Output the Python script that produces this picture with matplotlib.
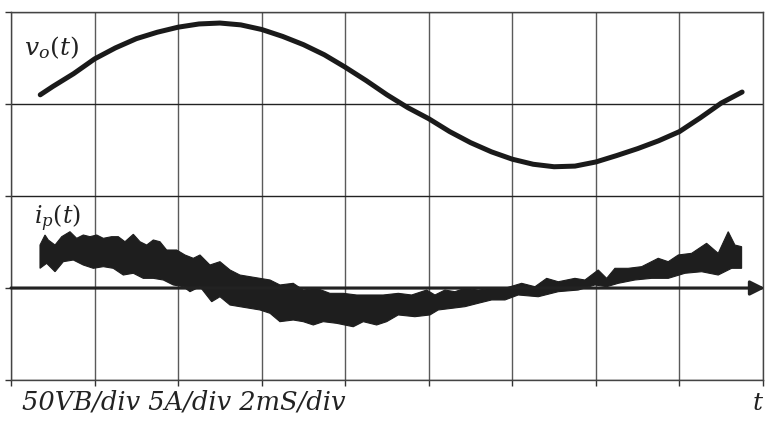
import matplotlib
matplotlib.use('Agg')
import matplotlib.pyplot as plt

plt.rcParams['mathtext.fontset'] = 'dejavuserif'

# ---- data (units: divisions; x = time div, y = vertical div) ----
t_vo = [0.35, 0.50, 0.75, 1.00, 1.25, 1.50, 1.75, 2.00, 2.25, 2.50, 2.75, 3.00,
        3.25, 3.50, 3.75, 4.00, 4.25, 4.50, 4.75, 5.00, 5.25, 5.50, 5.75, 6.00,
        6.25, 6.50, 6.75, 7.00, 7.25, 7.50, 7.75, 8.00, 8.25, 8.50, 8.75]
vo = [3.10, 3.19, 3.33, 3.49, 3.61, 3.71, 3.78, 3.835, 3.87, 3.88, 3.86, 3.81,
      3.735, 3.645, 3.535, 3.40, 3.255, 3.10, 2.96, 2.84, 2.70, 2.58, 2.48, 2.40,
      2.345, 2.318, 2.325, 2.37, 2.44, 2.515, 2.60, 2.70, 2.85, 3.01, 3.13]

# i_p(t) upper edge of the noisy trace (relative to the time axis)
t_ip_up = [0.347, 0.407, 0.446, 0.527, 0.607, 0.706, 0.786, 0.865, 0.945, 1.026,
           1.105, 1.205, 1.284, 1.364, 1.464, 1.544, 1.624, 1.703, 1.783, 1.863,
           1.983, 2.082, 2.182, 2.262, 2.381, 2.501, 2.621, 2.740, 2.860, 2.980,
           3.100, 3.219, 3.378, 3.498, 3.658, 3.817, 3.977, 4.137, 4.296, 4.455,
           4.635, 4.795, 4.975, 5.074, 5.194, 5.313, 5.433, 5.592, 5.752, 5.912,
           6.112, 6.271, 6.411, 6.550, 6.749, 6.869, 7.028, 7.129, 7.228, 7.387,
           7.548, 7.746, 7.866, 7.986, 8.146, 8.325, 8.464, 8.584, 8.664, 8.744]
ip_up = [0.467, 0.576, 0.522, 0.467, 0.558, 0.612, 0.540, 0.576, 0.558, 0.576,
         0.540, 0.558, 0.558, 0.503, 0.584, 0.503, 0.467, 0.522, 0.503, 0.413,
         0.413, 0.359, 0.323, 0.359, 0.250, 0.286, 0.196, 0.141, 0.123, 0.105,
         0.087, 0.033, 0.051, -0.022, -0.003, -0.058, -0.058, -0.076, -0.076, -0.076,
         -0.058, -0.076, -0.022, -0.076, -0.022, -0.040, -0.003, -0.022, -0.003, -0.003,
         0.051, 0.014, 0.105, 0.068, 0.105, 0.087, 0.196, 0.105, 0.214, 0.214,
         0.232, 0.323, 0.286, 0.359, 0.377, 0.486, 0.377, 0.612, 0.467, 0.449]

# i_p(t) lower edge of the noisy trace
t_ip_lo = [0.347, 0.427, 0.527, 0.626, 0.746, 0.865, 0.985, 1.105, 1.224, 1.344,
           1.464, 1.583, 1.703, 1.823, 1.942, 2.062, 2.142, 2.262, 2.402, 2.501,
           2.621, 2.740, 2.860, 2.980, 3.100, 3.219, 3.378, 3.498, 3.618, 3.737,
           3.898, 4.096, 4.216, 4.376, 4.496, 4.635, 4.834, 5.014, 5.113, 5.274,
           5.433, 5.592, 5.752, 5.912, 6.071, 6.310, 6.550, 6.789, 6.989, 7.129,
           7.268, 7.467, 7.667, 7.866, 8.066, 8.266, 8.464, 8.625, 8.744]
ip_lo = [0.214, 0.268, 0.177, 0.286, 0.304, 0.250, 0.214, 0.232, 0.214, 0.141,
         0.160, 0.105, 0.105, 0.087, 0.033, 0.014, -0.040, 0.014, -0.149, -0.095,
         -0.185, -0.203, -0.221, -0.239, -0.275, -0.366, -0.348, -0.366, -0.402, -0.366,
         -0.384, -0.421, -0.366, -0.402, -0.366, -0.293, -0.312, -0.293, -0.239, -0.221,
         -0.203, -0.166, -0.130, -0.130, -0.076, -0.095, -0.040, -0.022, 0.033, 0.014,
         0.051, 0.087, 0.105, 0.105, 0.160, 0.177, 0.141, 0.214, 0.214]
ip_zero = 1.0

x_grid = list(range(10))
y_grid = list(range(5))
scale_label = "50VB/div 5A/div 2mS/div"
vo_label = r'$v_o(t)$'
ip_label = r'$i_p(t)$'
t_label = r'$t$'

# ---- figure ----
fig = plt.figure(figsize=(7.66, 4.21), dpi=100)
ax = fig.add_axes([11/766, 41/421, 752/766, 368/421])
ax.set_xlim(0, 9)
ax.set_ylim(0, 4)

for x in x_grid:
    ax.axvline(x, color='#5a5a5a', lw=1.0, zorder=1)
for y in y_grid:
    ax.axhline(y, color='#222222', lw=1.0, zorder=1)

ax.set_xticks(x_grid)
ax.set_yticks(y_grid)
ax.tick_params(direction='out', length=4, width=1, colors='#333333',
               labelbottom=False, labelleft=False)
for s in ax.spines.values():
    s.set_color('#444444')
    s.set_linewidth(1.0)

# v_o(t)
ax.plot(t_vo, vo, color='#1a1a1a', lw=3.6, solid_capstyle='round',
        solid_joinstyle='round', zorder=3)

# i_p(t) noisy band
band_x = t_ip_up + t_ip_lo[::-1]
band_y = [ip_zero + v for v in ip_up] + [ip_zero + v for v in ip_lo[::-1]]
ax.fill(band_x, band_y, color='#1e1e1e', lw=0.8, edgecolor='#1e1e1e', zorder=3)

# time axis arrow
ax.annotate('', xy=(9.024, ip_zero), xytext=(0, ip_zero),
            arrowprops=dict(arrowstyle='-|>', lw=2.2, color='#222222',
                            mutation_scale=22, shrinkA=0, shrinkB=0),
            annotation_clip=False, zorder=4)

ax.text(0.16, 3.53, vo_label, fontsize=18, color='#222222', va='baseline')
ax.text(0.27, 1.70, ip_label, fontsize=17, color='#222222', va='baseline')

fig.text(22/766, 11/421, scale_label, fontsize=18.5, family='DejaVu Serif',
         style='italic', color='#222222', va='baseline')
fig.text(752/766, 11/421, t_label, fontsize=18, color='#222222', va='baseline')

fig.savefig('out.png', dpi=100)
